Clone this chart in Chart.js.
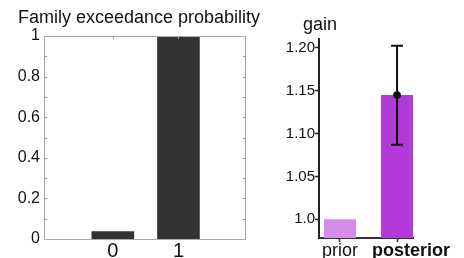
<!DOCTYPE html>
<html>
<head>
<meta charset="utf-8">
<script src="https://cdn.jsdelivr.net/npm/chart.js@4/dist/chart.umd.min.js"></script>
<style>
  html, body { margin: 0; padding: 0; background: #fff; }
  #wrap { position: relative; width: 464px; height: 258px; overflow: hidden; }
  canvas { position: absolute; top: 0; }
  #fep { left: 0; }
  #gain { left: 280px; }
</style>
</head>
<body>
<div id="wrap">
  <canvas id="fep" width="280" height="258"></canvas>
  <canvas id="gain" width="184" height="258"></canvas>
</div>
<script>
// left panel: family exceedance probability
const famCategories = [0, 1];
const famValues = [0.038, 1.0];
const famTickValues = [0, 0.2, 0.4, 0.6, 0.8, 1];
const famTickLabels = ['0', '0.2', '0.4', '0.6', '0.8', '1'];
const famMinorTicks = [0.1, 0.2, 0.3, 0.4, 0.5, 0.6, 0.7, 0.8, 0.9];

// right panel: gain
const gainCategories = ['prior', 'posterior'];
const gainPositions = [0, 1];
const gainValues = [1.0, 1.145];
const gainErrLow = [null, 1.087];
const gainErrHigh = [null, 1.2025];
const gainTickValues = [1.0, 1.05, 1.10, 1.15, 1.20];
const gainTickLabels = ['1.0', '1.05', '1.10', '1.15', '1.20'];

const FONT = "'Liberation Sans', Arial, sans-serif";
Chart.defaults.font.family = FONT;
Chart.defaults.color = '#111';

const boxPlugin = {
  id: 'box',
  afterDraw(chart) {
    const { ctx, chartArea: a, scales } = chart;
    ctx.save();
    ctx.strokeStyle = '#aaa';
    ctx.lineWidth = 1;
    ctx.strokeRect(a.left + 0.5, a.top + 0.5, a.right - a.left - 1, a.bottom - a.top);
    // inner minor ticks
    ctx.strokeStyle = '#999';
    ctx.beginPath();
    famMinorTicks.forEach(v => {
      const y = Math.round(scales.y.getPixelForValue(v)) + 0.5;
      ctx.moveTo(a.left, y); ctx.lineTo(a.left + 3, y);
      ctx.moveTo(a.right, y); ctx.lineTo(a.right - 3, y);
    });
    famCategories.forEach(v => {
      const x = Math.round(scales.x.getPixelForValue(v)) + 0.5;
      ctx.moveTo(x, a.top); ctx.lineTo(x, a.top + 3);
    });
    ctx.stroke();
    // title
    ctx.fillStyle = '#111';
    ctx.font = '18px ' + FONT;
    ctx.textBaseline = 'alphabetic';
    ctx.textAlign = 'left';
    ctx.fillText('Family exceedance probability', 18, 23);
    ctx.restore();
  }
};

new Chart(document.getElementById('fep'), {
  type: 'bar',
  data: {
    datasets: [{
      data: famCategories.map((c, i) => ({ x: c, y: famValues[i] })),
      backgroundColor: '#333333',
      borderWidth: 0,
      barPercentage: 0.65,
      categoryPercentage: 1,
    }],
  },
  options: {
    responsive: false,
    animation: false,
    layout: { padding: { top: 36, right: 34, bottom: 0, left: 0 } },
    plugins: { legend: { display: false }, tooltip: { enabled: false } },
    scales: {
      x: {
        type: 'linear',
        offset: false,
        min: -1.05,
        max: 2.03,
        afterBuildTicks: s => { s.ticks = famCategories.map(v => ({ value: v })); },
        afterFit: s => { s.height = 19; },
        grid: { display: false, drawTicks: false, offset: false },
        border: { display: false },
        ticks: { padding: 0, font: { size: 20 }, color: '#111' },
      },
      y: {
        min: 0,
        max: 1,
        afterBuildTicks: s => { s.ticks = famTickValues.map(v => ({ value: v })); },
        afterFit: s => { s.width = 44; },
        grid: { display: false, drawTicks: false },
        border: { display: false },
        ticks: { padding: 4, font: { size: 16 }, color: '#111', callback: (v, i) => famTickLabels[i] },
      },
    },
  },
  plugins: [boxPlugin],
});

const errPlugin = {
  id: 'errbars',
  afterDatasetsDraw(chart) {
    const { ctx, scales } = chart;
    ctx.save();
    ctx.strokeStyle = '#111';
    ctx.lineWidth = 2;
    gainPositions.forEach((p, i) => {
      if (gainErrLow[i] == null) return;
      const x = scales.x.getPixelForValue(p);
      const yl = scales.y.getPixelForValue(gainErrLow[i]);
      const yh = scales.y.getPixelForValue(gainErrHigh[i]);
      ctx.beginPath();
      ctx.moveTo(x, yl); ctx.lineTo(x, yh);
      ctx.moveTo(x - 6, yl); ctx.lineTo(x + 6, yl);
      ctx.moveTo(x - 6, yh); ctx.lineTo(x + 6, yh);
      ctx.stroke();
    });
    ctx.restore();
  },
  afterDraw(chart) {
    const { ctx, scales } = chart;
    ctx.save();
    ctx.fillStyle = '#111';
    ctx.textBaseline = 'alphabetic';
    ctx.textAlign = 'left';
    ctx.font = '18px ' + FONT;
    ctx.fillText('gain', 23, 30);
    ctx.textAlign = 'center';
    const shift = [0, 14];
    gainCategories.forEach((c, i) => {
      ctx.font = (i === 1 ? 'bold ' : '') + '18px ' + FONT;
      ctx.fillText(c, scales.x.getPixelForValue(gainPositions[i]) + shift[i], 256);
    });
    ctx.restore();
  }
};

new Chart(document.getElementById('gain'), {
  type: 'bar',
  data: {
    datasets: [{
      type: 'bar',
      data: gainPositions.map((p, i) => ({ x: p, y: gainValues[i] })),
      backgroundColor: ['#d48de9', '#b13ad9'],
      borderWidth: 0,
      barPercentage: 0.56,
      categoryPercentage: 1,
      order: 2,
    }, {
      type: 'line',
      data: [{ x: gainPositions[1], y: gainValues[1] }],
      showLine: false,
      pointRadius: 3.5,
      pointBackgroundColor: '#111',
      pointBorderColor: '#111',
      order: 0,
    }],
  },
  options: {
    responsive: false,
    animation: false,
    layout: { padding: { top: 39, right: 51, bottom: 0, left: 0 } },
    plugins: { legend: { display: false }, tooltip: { enabled: false } },
    scales: {
      x: {
        type: 'linear',
        offset: false,
        min: -0.368,
        max: 1.28,
        afterBuildTicks: s => { s.ticks = gainPositions.map(v => ({ value: v })); },
        afterFit: s => { s.height = 20; },
        grid: { drawOnChartArea: false, drawTicks: true, tickLength: 4, color: '#333', tickWidth: 1.5, offset: false },
        border: { color: '#333', width: 2 },
        ticks: { callback: () => '' },
      },
      y: {
        min: 0.978,
        max: 1.2105,
        afterBuildTicks: s => { s.ticks = gainTickValues.map(v => ({ value: v })); },
        afterFit: s => { s.width = 39; },
        grid: { drawOnChartArea: false, drawTicks: true, tickLength: 4, color: '#222', tickWidth: 1.5 },
        border: { color: '#222', width: 2 },
        ticks: {
          padding: 0,
          font: { size: 15 },
          color: '#111',
          callback: (v, i) => gainTickLabels[i],
        },
      },
    },
  },
  plugins: [errPlugin],
});
</script>
</body>
</html>
